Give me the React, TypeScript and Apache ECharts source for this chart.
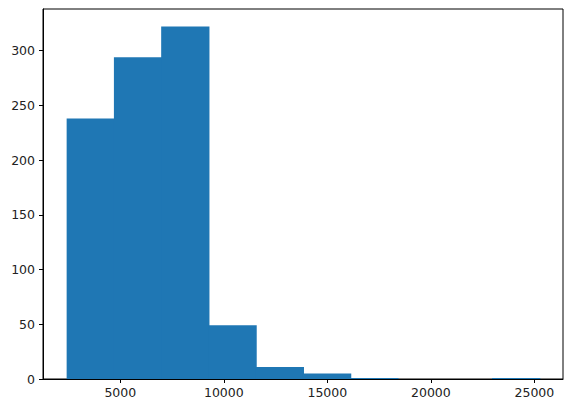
import React, { useEffect, useRef } from "react";
import * as echarts from "echarts";

const binEdges = [2408, 4691, 6974, 9258, 11541, 13824, 16107, 18390, 20674, 22957, 25241];
const counts = [238, 294, 322, 49, 11, 5, 1, 0, 0, 1];
const xTicks = [5000, 10000, 15000, 20000, 25000];
const yTicks = [0, 50, 100, 150, 200, 250, 300];

export default function App() {
  const ref = useRef<HTMLDivElement>(null);
  useEffect(() => {
    if (!ref.current) return;
    const chart = echarts.init(ref.current, null, { renderer: "svg" });
    const data = counts.map((c, i) => [binEdges[i], binEdges[i + 1], c]);
    const font = "DejaVu Sans";
    chart.setOption({
      animation: false,
      grid: {
        left: 43,
        right: 10,
        top: 9,
        bottom: 32,
        show: true,
        borderColor: "#000",
        borderWidth: 1,
        backgroundColor: "transparent",
      },
      xAxis: {
        type: "value",
        min: 1266,
        max: 26383,
        splitLine: { show: false },
        axisLine: { show: true, onZero: false, lineStyle: { color: "#000", width: 1 } },
        axisTick: { show: true, length: 4, lineStyle: { color: "#000" }, customValues: xTicks },
        axisLabel: {
          color: "#222",
          fontFamily: font,
          fontSize: 12.5,
          margin: 7,
          customValues: xTicks,
          formatter: (v: number) => String(v),
        },
      },
      yAxis: {
        type: "value",
        min: 0,
        max: 338,
        splitLine: { show: false },
        axisLine: { show: true, lineStyle: { color: "#000", width: 1 } },
        axisTick: { show: true, length: 4, lineStyle: { color: "#000" }, customValues: yTicks },
        axisLabel: {
          color: "#222",
          fontFamily: font,
          fontSize: 12.5,
          margin: 8,
          customValues: yTicks,
          formatter: (v: number) => String(v),
        },
      },
      series: [
        {
          type: "custom",
          data,
          encode: { x: [0, 1], y: 2 },
          renderItem: (params: any, api: any) => {
            const x0 = api.value(0);
            const x1 = api.value(1);
            const v = api.value(2);
            if (!v) return null;
            const p0 = api.coord([x0, v]);
            const p1 = api.coord([x1, 0]);
            return {
              type: "rect",
              shape: { x: p0[0], y: p0[1], width: p1[0] - p0[0] + 1, height: p1[1] - p0[1] },
              style: { fill: "#1f77b4" },
            };
          },
        },
      ],
    });
    return () => chart.dispose();
  }, []);
  return <div ref={ref} style={{ width: 573, height: 411, position: "absolute", left: 0, top: 0 }} />;
}
